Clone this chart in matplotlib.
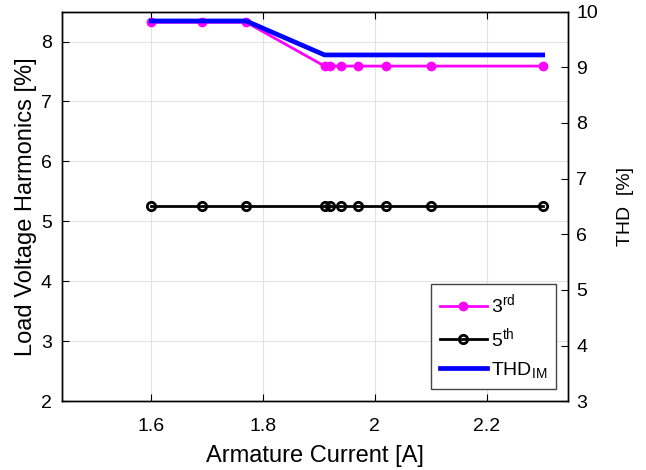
import numpy as np
import matplotlib.pyplot as plt

plt.rcParams['font.family'] = 'Liberation Sans'
plt.rcParams['mathtext.fontset'] = 'custom'
plt.rcParams['mathtext.rm'] = 'Liberation Sans'
plt.rcParams['mathtext.it'] = 'Liberation Sans:italic'

# armature current sweep [A]
current = [1.6, 1.69, 1.77, 1.91, 1.92, 1.94, 1.97, 2.02, 2.1, 2.3]
# load voltage harmonics [%]
h3 = [8.32, 8.32, 8.32, 7.59, 7.59, 7.59, 7.59, 7.59, 7.59, 7.59]
h5 = [5.26, 5.26, 5.26, 5.26, 5.26, 5.26, 5.26, 5.26, 5.26, 5.26]
# total harmonic distortion of the machine [%]
thd = [9.83, 9.83, 9.83, 9.22, 9.22, 9.22, 9.22, 9.22, 9.22, 9.22]

fig = plt.figure(figsize=(6.46, 4.70), dpi=100)
ax = fig.add_axes([0.0955, 0.146, 0.7835, 0.8295])
ax2 = ax.twinx()

l3, = ax.plot(current, h3, '-o', color=(1, 0, 1), lw=2, ms=6)
l5, = ax.plot(current, h5, '-o', color='k', lw=2, ms=6, mfc='none', mew=2)
lt, = ax2.plot(current, thd, '-', color=(0, 0, 1), lw=3.4)

ax.set_xlim(1.44, 2.345)
ax.set_ylim(2, 8.5)
ax2.set_ylim(3, 10)
ax.set_xticks([1.6, 1.8, 2.0, 2.2])
ax.set_xticklabels(['1.6', '1.8', '2', '2.2'])
ax.set_yticks(range(2, 9))
ax2.set_yticks(range(3, 11))

ax.grid(True, color='#e2e2e2', lw=0.8)
ax.set_axisbelow(True)
ax.tick_params(direction='in', labelsize=14, top=True, length=5, width=0.8)
ax.tick_params(axis='x', pad=12)
ax.tick_params(axis='y', pad=7)
ax2.tick_params(direction='in', labelsize=14, length=5, width=0.8, pad=6)

ax.set_xlabel('Armature Current [A]', fontsize=17, labelpad=7)
ax.set_ylabel('Load Voltage Harmonics [%]', fontsize=17, labelpad=3)
ax2.set_ylabel('THD  [%]', fontsize=14, labelpad=14)

for a in (ax, ax2):
    for s in a.spines.values():
        s.set_linewidth(1.0)

leg = ax2.legend([l3, l5, lt],
                 [r'3$\mathregular{^{rd}}$', r'5$\mathregular{^{th}}$', r'THD$\mathregular{_{IM}}$'],
                 loc='lower right', bbox_to_anchor=(0.976, 0.033), borderaxespad=0,
                 fontsize=14, fancybox=False, framealpha=1, edgecolor='#444444',
                 handlelength=2.4, labelspacing=0.5, handletextpad=0.2, borderpad=0.45)
leg.get_frame().set_linewidth(1.0)

fig.savefig('out.png', dpi=100)
